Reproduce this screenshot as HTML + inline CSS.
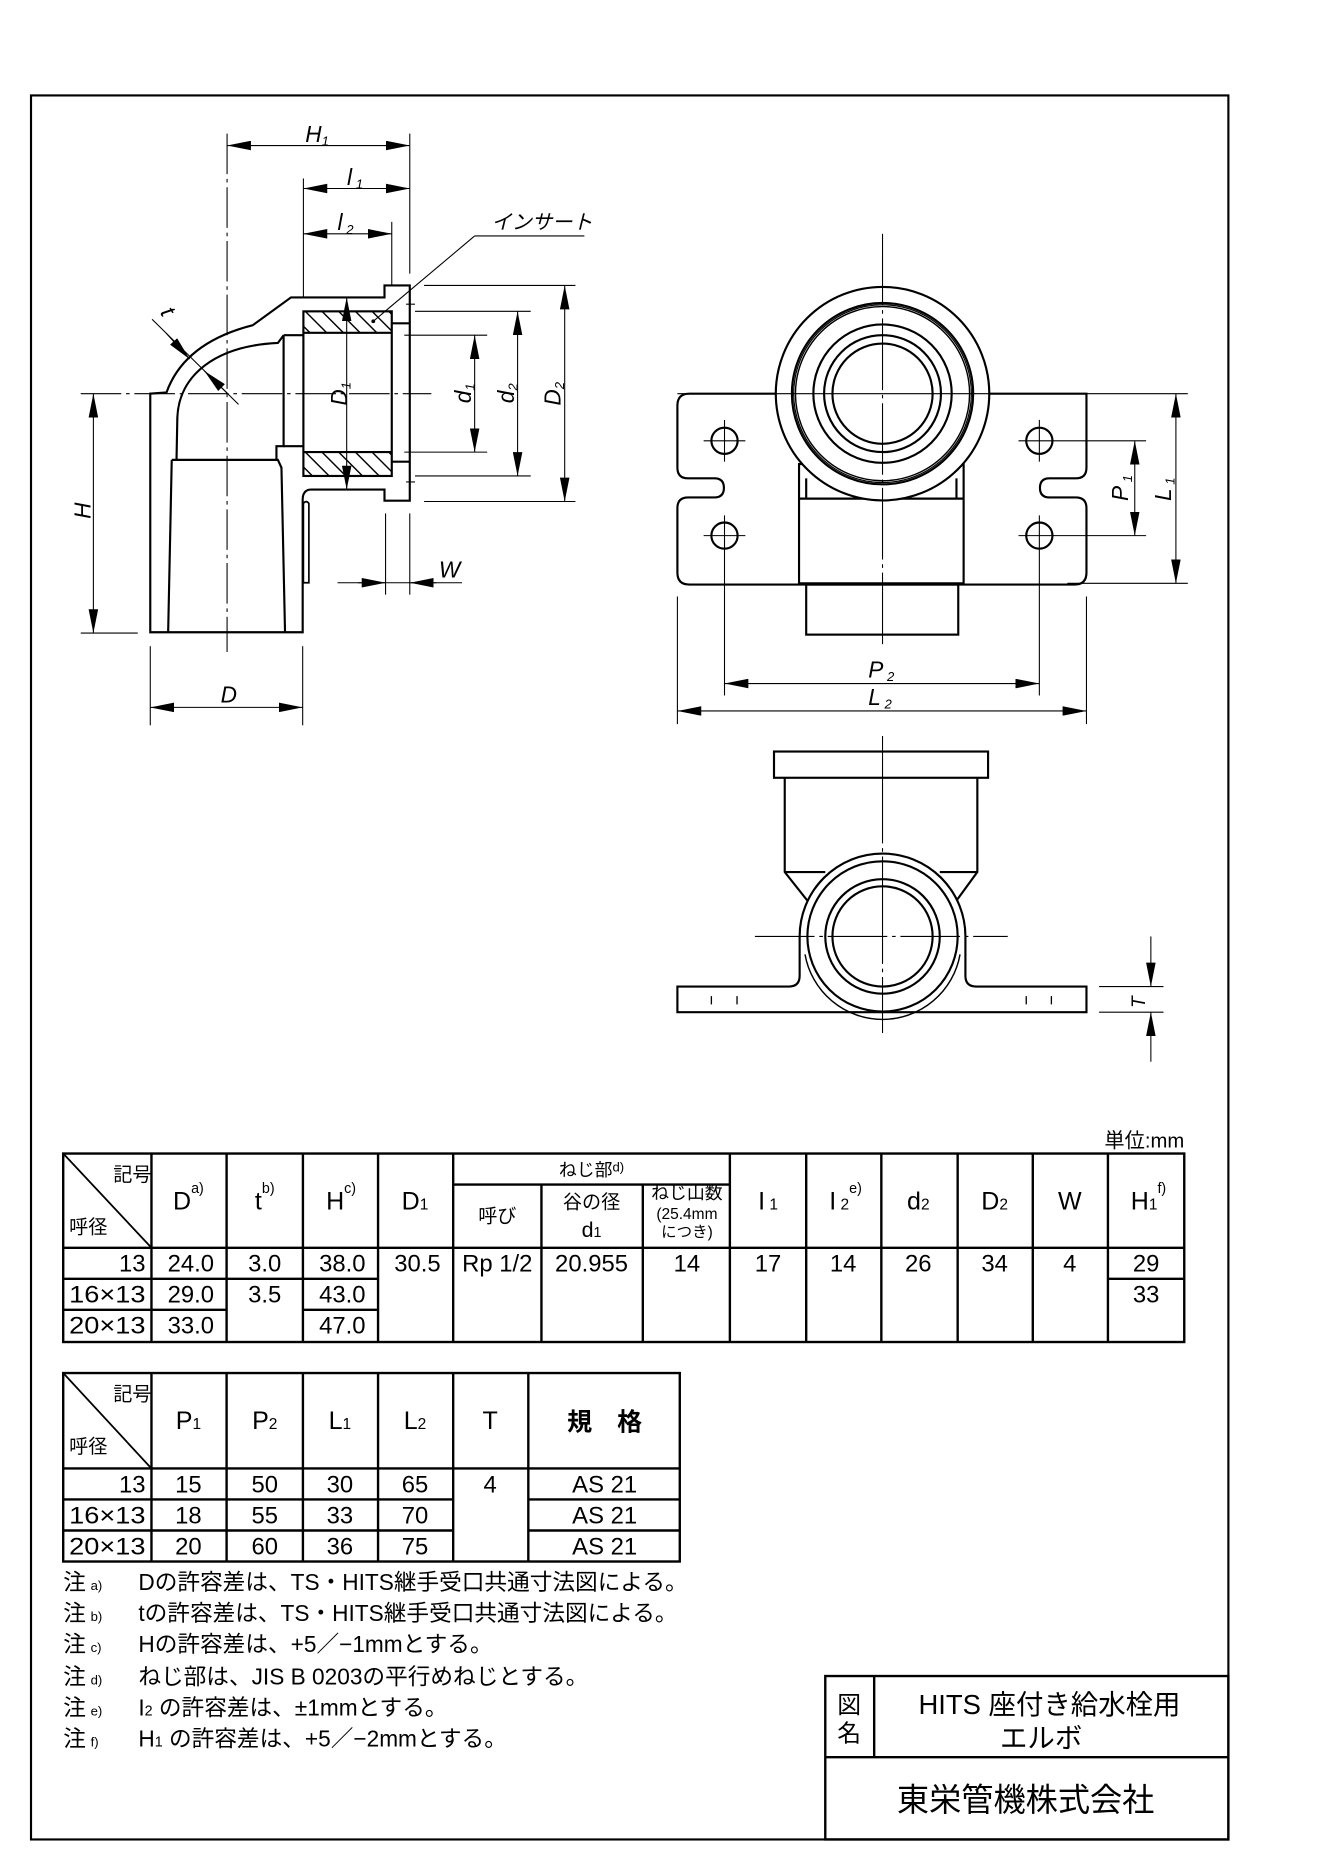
<!DOCTYPE html>
<html><head><meta charset="utf-8"><style>
html,body{margin:0;padding:0;background:#fff}
svg{display:block}
text{font-family:"Liberation Sans","Noto Sans CJK JP",sans-serif;fill:#000}
.it{font-style:italic}
</style></head><body>
<svg width="1322" height="1870" viewBox="0 0 1108.5 1567.6" preserveAspectRatio="none" xmlns="http://www.w3.org/2000/svg">
<defs>
<marker id="a" viewBox="0 0 20 8" refX="20" refY="4" markerWidth="20" markerHeight="8" markerUnits="userSpaceOnUse" orient="auto-start-reverse"><path d="M0 0L20 4L0 8z"/></marker>
<clipPath id="hb1"><rect x="254.4" y="261" width="74" height="18"/></clipPath>
<clipPath id="hb2"><rect x="254.4" y="379" width="74" height="20"/></clipPath>
</defs>
<rect width="1108.5" height="1567.6" fill="#fff"/>
<!-- border -->
<rect x="26" y="80" width="1004" height="1462" fill="none" stroke="#000" stroke-width="1.8"/>

<!-- ============ LEFT VIEW ============ -->
<g fill="none" stroke="#000" stroke-width="1.8" stroke-linejoin="miter">
<path d="M126 530 L126 330 L139.6 329 C150 300 175 282 212 272.6 L244 249.3 L322.4 249.3 L322.4 239.3 L343.6 239.3 L343.6 419.7 L322.4 419.7 L322.4 410.4 L260.5 410.4 C256 410.4 253.8 414 253.8 418.7 L253.8 530 Z"/>
<path d="M148 386 L148.7 350 C150 315 180 290 233 287.5 L237.8 281"/>
<path d="M237.8 281 L237.8 374 L231.8 374 L231.8 385.5"/>
<path d="M144 385.5 L233 385.5 L236 392 L239 530"/>
<path d="M144 385.5 L141 530"/>
<rect x="254.4" y="261" width="74.1" height="138"/>
<line x1="254.4" y1="279" x2="328.5" y2="279"/>
<line x1="254.4" y1="379" x2="328.5" y2="379"/>
<line x1="237.8" y1="281" x2="254.4" y2="281"/>
<line x1="237.8" y1="374" x2="254.4" y2="374"/>
<line x1="328.5" y1="271" x2="343.6" y2="271"/>
<line x1="328.5" y1="387" x2="343.6" y2="387"/>
<path d="M254.4 488.5 L254.4 422 Q256.7 419 259 422 L259 488.5 Z" stroke-width="1.4"/>
</g>
<g stroke="#000" stroke-width="1.2">
<g clip-path="url(#hb1)"><path d="M250 255 l30 30 M264 255 l30 30 M278 255 l30 30 M292 255 l30 30 M306 255 l30 30 M320 255 l30 30 M236 255 l30 30"/></g>
<g clip-path="url(#hb2)"><path d="M250 373 l30 30 M264 373 l30 30 M278 373 l30 30 M292 373 l30 30 M306 373 l30 30 M320 373 l30 30 M236 373 l30 30"/></g>
</g>
<circle cx="313" cy="269.3" r="1.6" fill="#000"/>
<g stroke="#000" stroke-width="0.9" fill="none" stroke-dasharray="34 4 3 4">
<line x1="67.7" y1="330" x2="361.7" y2="330"/>
<line x1="190.4" y1="112" x2="190.4" y2="546.6"/>
</g>
<g stroke="#000" stroke-width="0.9" fill="none">
<line x1="343.6" y1="112" x2="343.6" y2="229.4"/>
<line x1="254.4" y1="149.6" x2="254.4" y2="249"/>
<line x1="328.5" y1="186" x2="328.5" y2="239"/>
<line x1="339" y1="281" x2="408.5" y2="281"/>
<line x1="339" y1="379" x2="408.5" y2="379"/>
<line x1="348" y1="261" x2="445" y2="261"/>
<line x1="348" y1="399" x2="445" y2="399"/>
<line x1="355.6" y1="239.3" x2="482.5" y2="239.3"/>
<line x1="355.6" y1="420.4" x2="482.5" y2="420.4"/>
<line x1="340.5" y1="255" x2="348" y2="255"/>
<line x1="340.5" y1="404" x2="348" y2="404"/>
<line x1="67.7" y1="530.7" x2="115.5" y2="530.7"/>
<line x1="126" y1="541.7" x2="126" y2="608"/>
<line x1="253.8" y1="541.7" x2="253.8" y2="608"/>
<line x1="323.3" y1="430.4" x2="323.3" y2="498.5"/>
<line x1="343.6" y1="430.4" x2="343.6" y2="498.5"/>
<line x1="283" y1="488.5" x2="387.4" y2="488.5"/>
<line x1="190.4" y1="122" x2="343.6" y2="122" marker-start="url(#a)" marker-end="url(#a)"/>
<line x1="254.4" y1="158" x2="343.6" y2="158" marker-start="url(#a)" marker-end="url(#a)"/>
<line x1="254.4" y1="196" x2="328.5" y2="196" marker-start="url(#a)" marker-end="url(#a)"/>
<line x1="290.7" y1="249.3" x2="290.7" y2="410.4" marker-start="url(#a)" marker-end="url(#a)"/>
<line x1="398" y1="281" x2="398" y2="379" marker-start="url(#a)" marker-end="url(#a)"/>
<line x1="434" y1="261" x2="434" y2="399" marker-start="url(#a)" marker-end="url(#a)"/>
<line x1="473.5" y1="239.3" x2="473.5" y2="420.4" marker-start="url(#a)" marker-end="url(#a)"/>
<line x1="78.3" y1="330" x2="78.3" y2="530.7" marker-start="url(#a)" marker-end="url(#a)"/>
<line x1="126" y1="593" x2="253.8" y2="593" marker-start="url(#a)" marker-end="url(#a)"/>
<line x1="300" y1="488.5" x2="323.3" y2="488.5" marker-end="url(#a)"/>
<line x1="366" y1="488.5" x2="343.6" y2="488.5" marker-end="url(#a)"/>
<line x1="127.5" y1="267.6" x2="200" y2="339"/>
<line x1="139" y1="279" x2="159" y2="301" marker-end="url(#a)"/>
<line x1="191" y1="330" x2="171.4" y2="311" marker-end="url(#a)"/>
<line x1="398" y1="197.8" x2="490" y2="197.8"/>
<line x1="398" y1="197.8" x2="313" y2="269.3"/>
</g>
<g class="it" font-size="19">
<text x="256" y="119">H<tspan font-size="11" dy="3">1</tspan></text>
<text x="291" y="155">l<tspan font-size="11" dy="3"> 1</tspan></text>
<text x="283" y="193">l<tspan font-size="11" dy="3"> 2</tspan></text>
<text x="185" y="589">D</text>
<text x="368" y="484">W</text>
<text transform="translate(76,435) rotate(-90)">H</text>
<text transform="translate(291,340) rotate(-90)">D<tspan font-size="11" dy="3">1</tspan></text>
<text transform="translate(395,338) rotate(-90)">d<tspan font-size="11" dy="3">1</tspan></text>
<text transform="translate(431,338) rotate(-90)">d<tspan font-size="11" dy="3">2</tspan></text>
<text transform="translate(470,340) rotate(-90)">D<tspan font-size="11" dy="3">2</tspan></text>
<text transform="translate(134,262) rotate(60)">t</text>
</g>
<text x="412" y="192" font-size="17" font-style="italic">インサート</text>

<!-- ============ RIGHT TOP VIEW ============ -->
<g fill="none" stroke="#000" stroke-width="1.8">
<path d="M578 330 L911 330 Q911 330 911 340 L911 392 Q911 401 902 401 L880 401 Q872 401 872 409 Q872 417 880 417 L902 417 Q911 417 911 426 L911 480 Q911 490 901 490 L578 490 Q568 490 568 480 L568 426 Q568 417 577 417 L599 417 Q607 417 607 409 Q607 401 599 401 L577 401 Q568 401 568 392 L568 340 Q568 330 578 330 Z" fill="#fff"/>
<rect x="670" y="389" width="138" height="100" fill="#fff"/>
<line x1="676" y1="401" x2="676" y2="418"/>
<line x1="802" y1="401" x2="802" y2="418"/>
<line x1="670" y1="418" x2="808" y2="418"/>
<rect x="676" y="490" width="127.5" height="42"/>
<circle cx="740" cy="330" r="89.5" fill="#fff"/>
<circle cx="740" cy="330" r="76"/>
<circle cx="740" cy="330" r="74.5" stroke-width="1"/>
<circle cx="740" cy="330" r="73" stroke-width="1.2"/>
<circle cx="740" cy="330" r="58"/>
<circle cx="740" cy="330" r="49"/>
<circle cx="740" cy="330" r="42"/>
<circle cx="607.5" cy="369.5" r="11"/>
<circle cx="607.5" cy="449" r="11"/>
<circle cx="871.5" cy="369.5" r="11"/>
<circle cx="871.5" cy="449" r="11"/>
</g>
<g stroke="#000" stroke-width="0.9" fill="none">
<line x1="740" y1="196" x2="740" y2="542" stroke-dasharray="60 4 3 4"/>
<line x1="568" y1="330" x2="996" y2="330"/>
<line x1="590" y1="369.5" x2="625" y2="369.5"/>
<line x1="590" y1="449" x2="625" y2="449"/>
<line x1="854" y1="369.5" x2="961" y2="369.5"/>
<line x1="854" y1="449" x2="961" y2="449"/>
<line x1="607.5" y1="352" x2="607.5" y2="387"/>
<line x1="607.5" y1="432" x2="607.5" y2="583"/>
<line x1="871.5" y1="352" x2="871.5" y2="387"/>
<line x1="871.5" y1="432" x2="871.5" y2="583"/>
<line x1="895" y1="489" x2="996" y2="489"/>
<line x1="568" y1="500" x2="568" y2="607"/>
<line x1="911" y1="500" x2="911" y2="607"/>
<line x1="951.5" y1="369.5" x2="951.5" y2="449" marker-start="url(#a)" marker-end="url(#a)"/>
<line x1="986" y1="330" x2="986" y2="489" marker-start="url(#a)" marker-end="url(#a)"/>
<line x1="607.5" y1="573" x2="871.5" y2="573" marker-start="url(#a)" marker-end="url(#a)"/>
<line x1="568" y1="596" x2="911" y2="596" marker-start="url(#a)" marker-end="url(#a)"/>
</g>
<g class="it" font-size="19">
<text x="728" y="568">P<tspan font-size="11" dy="3"> 2</tspan></text>
<text x="728" y="591">L<tspan font-size="11" dy="3"> 2</tspan></text>
<text transform="translate(946,420) rotate(-90)">P<tspan font-size="11" dy="3"> 1</tspan></text>
<text transform="translate(982,420) rotate(-90)">L<tspan font-size="11" dy="3"> 1</tspan></text>
</g>

<!-- ============ BOTTOM VIEW ============ -->
<g fill="none" stroke="#000" stroke-width="1.8">
<rect x="649" y="630" width="179.5" height="22"/>
<path d="M658 652 L658 731 L677 755 M819.5 652 L819.5 731 L802 755 M658 731 L692 731 M819.5 731 L788 731"/>
<path d="M568 827 L661.6 827 Q670.5 827 670.5 818 L670.5 785 A69.5 69.5 0 0 1 809.5 785 L809.5 818 Q809.5 827 818.4 827 L911 827 L911 848.5 L568 848.5 Z"/>
<circle cx="740" cy="785" r="63"/>
<circle cx="740" cy="785" r="48"/>
<circle cx="740" cy="785" r="42"/>
<path d="M675 800 A66 66 0 0 0 805 800" stroke-width="1.2"/>
</g>
<g stroke="#000" stroke-width="1.1">
<path d="M596.5 835v7 M618 835v7 M860.5 835v7 M881.6 835v7"/>
</g>
<g stroke="#000" stroke-width="0.9" fill="none">
<line x1="633" y1="785" x2="845" y2="785" stroke-dasharray="50 4 3 4"/>
<line x1="740" y1="617" x2="740" y2="866" stroke-dasharray="90 4 3 4"/>
<line x1="921.6" y1="827" x2="975.6" y2="827"/>
<line x1="921.6" y1="848.5" x2="975.6" y2="848.5"/>
<line x1="965" y1="785" x2="965" y2="827" marker-end="url(#a)"/>
<line x1="965" y1="890" x2="965" y2="848.5" marker-end="url(#a)"/>
</g>
<text class="it" font-size="16" transform="translate(960,845) rotate(-90)">T</text>

<!-- ============ TABLE 1 ============ -->
<text x="993" y="962" font-size="17" text-anchor="end">単位:mm</text>
<g stroke="#000" stroke-width="2" fill="none">
<rect x="53" y="967" width="940" height="158"/>
<line x1="53" y1="1046" x2="993" y2="1046"/>
<line x1="380" y1="993" x2="612" y2="993"/>
<path d="M127 967V1125 M190 967V1125 M254 967V1125 M317 967V1125 M380 967V1125 M454 993V1125 M539 993V1125 M612 967V1125 M676 967V1125 M739 967V1125 M803 967V1125 M866 967V1125 M929 967V1125"/>
<path d="M53 1072H317 M53 1098H127 M190 1098H127 M254 1098H317 M929 1072H993"/>
<line x1="53" y1="967" x2="127" y2="1046" stroke-width="1.5"/>
</g>
<g font-size="16">
<text x="95" y="990">記号</text>
<text x="58" y="1034">呼径</text>
<text x="496" y="986" text-anchor="middle" font-size="15">ねじ部<tspan font-size="11" dy="-4">d)</tspan></text>
<text x="417" y="1025" text-anchor="middle">呼び</text>
<text x="496" y="1013" text-anchor="middle">谷の径</text>
<text x="496" y="1037" text-anchor="middle" font-size="18">d<tspan font-size="12">1</tspan></text>
<text x="576" y="1005" text-anchor="middle" font-size="15">ねじ山数</text>
<text x="576" y="1022" text-anchor="middle" font-size="13">(25.4mm</text>
<text x="576" y="1037" text-anchor="middle" font-size="13">につき)</text>
</g>
<g font-size="21" text-anchor="middle">
<text x="158" y="1014">D<tspan font-size="12" dy="-14">a)</tspan></text>
<text x="222" y="1014">t<tspan font-size="12" dy="-14">b)</tspan></text>
<text x="286" y="1014">H<tspan font-size="12" dy="-14">c)</tspan></text>
<text x="348" y="1014">D<tspan font-size="13">1</tspan></text>
<text x="644" y="1014">I<tspan font-size="13"> 1</tspan></text>
<text x="709" y="1014">I<tspan font-size="13"> 2</tspan><tspan font-size="12" dy="-14">e)</tspan></text>
<text x="770" y="1014">d<tspan font-size="13">2</tspan></text>
<text x="834" y="1014">D<tspan font-size="13">2</tspan></text>
<text x="897" y="1014">W</text>
<text x="963" y="1014">H<tspan font-size="13">1</tspan><tspan font-size="12" dy="-14">f)</tspan></text>
</g>
<g font-size="20">
<text x="122" y="1066" text-anchor="end">13</text>
<text x="122" y="1092" text-anchor="end" textLength="64" lengthAdjust="spacingAndGlyphs">16×13</text>
<text x="122" y="1118" text-anchor="end" textLength="64" lengthAdjust="spacingAndGlyphs">20×13</text>
<g text-anchor="middle">
<text x="160" y="1066">24.0</text><text x="160" y="1092">29.0</text><text x="160" y="1118">33.0</text>
<text x="222" y="1066">3.0</text><text x="222" y="1092">3.5</text>
<text x="287" y="1066">38.0</text><text x="287" y="1092">43.0</text><text x="287" y="1118">47.0</text>
<text x="350" y="1066">30.5</text>
<text x="417" y="1066">Rp 1/2</text>
<text x="496" y="1066">20.955</text>
<text x="576" y="1066">14</text>
<text x="644" y="1066">17</text>
<text x="707" y="1066">14</text>
<text x="770" y="1066">26</text>
<text x="834" y="1066">34</text>
<text x="897" y="1066">4</text>
<text x="961" y="1066">29</text>
<text x="961" y="1092">33</text>
</g></g>

<!-- ============ TABLE 2 ============ -->
<g stroke="#000" stroke-width="2" fill="none">
<rect x="53" y="1151" width="517" height="158"/>
<line x1="53" y1="1231" x2="570" y2="1231"/>
<path d="M127 1151V1309 M190 1151V1309 M254 1151V1309 M317 1151V1309 M380 1151V1309 M443 1151V1309"/>
<path d="M53 1257H380 M53 1283H380 M443 1257H570 M443 1283H570"/>
<line x1="53" y1="1151" x2="127" y2="1231" stroke-width="1.5"/>
</g>
<g font-size="16">
<text x="95" y="1174">記号</text>
<text x="58" y="1218">呼径</text>
</g>
<g font-size="21" text-anchor="middle">
<text x="158" y="1198">P<tspan font-size="13">1</tspan></text>
<text x="222" y="1198">P<tspan font-size="13">2</tspan></text>
<text x="285" y="1198">L<tspan font-size="13">1</tspan></text>
<text x="348" y="1198">L<tspan font-size="13">2</tspan></text>
<text x="411" y="1198">T</text>
<text x="507" y="1199" font-weight="bold">規　格</text>
</g>
<g font-size="20">
<text x="122" y="1251" text-anchor="end">13</text>
<text x="122" y="1277" text-anchor="end" textLength="64" lengthAdjust="spacingAndGlyphs">16×13</text>
<text x="122" y="1303" text-anchor="end" textLength="64" lengthAdjust="spacingAndGlyphs">20×13</text>
<g text-anchor="middle">
<text x="158" y="1251">15</text><text x="158" y="1277">18</text><text x="158" y="1303">20</text>
<text x="222" y="1251">50</text><text x="222" y="1277">55</text><text x="222" y="1303">60</text>
<text x="285" y="1251">30</text><text x="285" y="1277">33</text><text x="285" y="1303">36</text>
<text x="348" y="1251">65</text><text x="348" y="1277">70</text><text x="348" y="1303">75</text>
<text x="411" y="1251">4</text>
<text x="507" y="1251">AS 21</text><text x="507" y="1277">AS 21</text><text x="507" y="1303">AS 21</text>
</g></g>

<!-- notes -->
<g font-size="19">
<text x="53" y="1333">注<tspan font-size="11" dx="4">a)</tspan></text>
<text x="53" y="1359">注<tspan font-size="11" dx="4">b)</tspan></text>
<text x="53" y="1385">注<tspan font-size="11" dx="4">c)</tspan></text>
<text x="53" y="1412">注<tspan font-size="11" dx="4">d)</tspan></text>
<text x="53" y="1438">注<tspan font-size="11" dx="4">e)</tspan></text>
<text x="53" y="1464">注<tspan font-size="11" dx="4">f)</tspan></text>
<text x="116" y="1333">Dの許容差は、TS・HITS継手受口共通寸法図による。</text>
<text x="116" y="1359">tの許容差は、TS・HITS継手受口共通寸法図による。</text>
<text x="116" y="1385">Hの許容差は、+5／−1mmとする。</text>
<text x="116" y="1412">ねじ部は、JIS B 0203の平行めねじとする。</text>
<text x="116" y="1438">I<tspan font-size="12">2</tspan> の許容差は、±1mmとする。</text>
<text x="116" y="1464">H<tspan font-size="12">1</tspan> の許容差は、+5／−2mmとする。</text>
</g>

<!-- title block -->
<g stroke="#000" stroke-width="2" fill="none">
<rect x="692" y="1405" width="338" height="137"/>
<line x1="692" y1="1473" x2="1030" y2="1473"/>
<line x1="733" y1="1405" x2="733" y2="1473"/>
</g>
<text x="712" y="1436" font-size="20" text-anchor="middle">図</text>
<text x="712" y="1460" font-size="20" text-anchor="middle">名</text>
<text x="880" y="1437" font-size="23" text-anchor="middle">HITS 座付き給水栓用</text>
<text x="873" y="1465" font-size="23" text-anchor="middle">エルボ</text>
<text x="860" y="1518" font-size="27" text-anchor="middle">東栄管機株式会社</text>
</svg>
</body></html>
